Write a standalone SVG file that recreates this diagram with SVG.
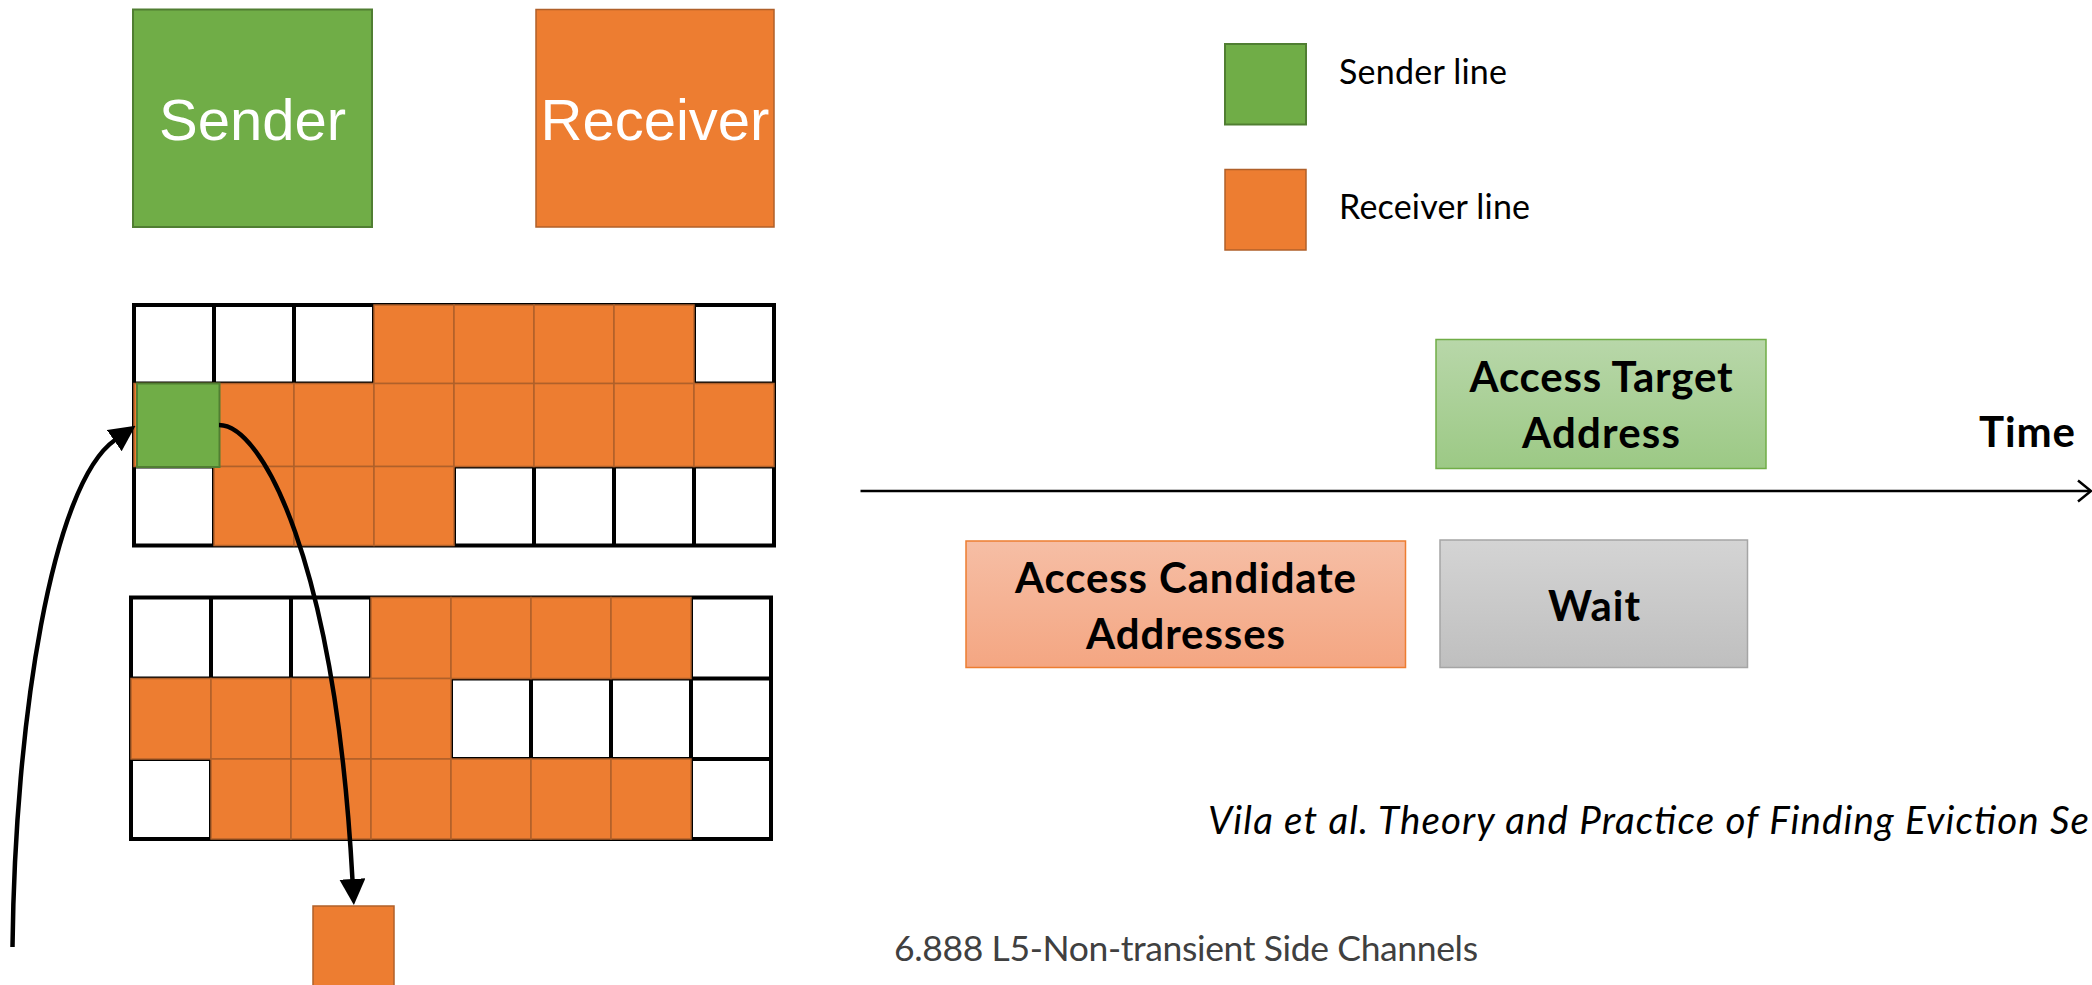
<svg xmlns="http://www.w3.org/2000/svg" width="2092" height="985" viewBox="0 0 2092 985">
  <style>
    .grid { fill: #ffffff; stroke: #000000; stroke-width: 4; }
    .gline { stroke: #000000; stroke-width: 4; fill: none; }
    .rcv { fill: #ED7D31; stroke: #B0602A; stroke-width: 1.5; }
    .snd { fill: #70AD47; stroke: #507E32; stroke-width: 2; }
    .big { font-family: "Liberation Sans", Arial, sans-serif; font-size: 58px; fill: #ffffff; text-anchor: middle; }
    .lbl { font-family: Lato, "Open Sans", sans-serif; font-weight: bold; font-size: 42px; fill: #000000; text-anchor: middle; }
    .leg { font-family: Lato, "Open Sans", sans-serif; font-size: 34px; fill: #000000; }
    .cite { font-family: Lato, "Open Sans", sans-serif; font-style: italic; font-size: 38.5px; fill: #000000; }
    .foot { font-family: Lato, "Open Sans", sans-serif; font-size: 35.5px; fill: #404040; }
    .conn { fill: none; stroke: #000000; stroke-width: 4.5; }
  </style>
  <defs>
    <linearGradient id="gGreen" x1="0" y1="0" x2="0" y2="1">
      <stop offset="0" stop-color="#B8D7A9"/>
      <stop offset="1" stop-color="#9CC985"/>
    </linearGradient>
    <linearGradient id="gOrange" x1="0" y1="0" x2="0" y2="1">
      <stop offset="0" stop-color="#F6BEA5"/>
      <stop offset="1" stop-color="#F4A682"/>
    </linearGradient>
    <linearGradient id="gGray" x1="0" y1="0" x2="0" y2="1">
      <stop offset="0" stop-color="#D4D4D4"/>
      <stop offset="1" stop-color="#BFBFBF"/>
    </linearGradient>
    <marker id="head" markerUnits="userSpaceOnUse" markerWidth="26" markerHeight="26" viewBox="0 0 26 26" refX="1" refY="13" orient="auto">
      <path d="M0,0 L26,13 L0,26 z" fill="#000000"/>
    </marker>
  </defs>

  <rect width="2092" height="985" fill="#ffffff"/>

  <!-- Sender / Receiver boxes -->
  <g id="sender">
    <rect class="snd" x="133" y="9.5" width="239" height="217.5" stroke-width="2.5"/>
    <text class="big" x="252.5" y="139.5">Sender</text>
  </g>
  <g id="receiver">
    <rect class="rcv" x="536" y="9.5" width="238" height="217.5" stroke-width="2.5"/>
    <text class="big" x="655" y="139.5">Receiver</text>
  </g>

  <!-- Cache set 1 (3 ways x 8 sets) -->
  <g id="cache-top">
    <rect class="grid" x="134" y="305" width="640" height="240.5"/>
    <path class="gline" d="M214,305V545.5 M294,305V545.5 M374,305V545.5 M454,305V545.5 M534,305V545.5 M614,305V545.5 M694,305V545.5 M134,383.5H774 M134,466.5H774"/>
    <!-- row 1 -->
    <rect class="rcv" x="374" y="305" width="80" height="78.5"/>
    <rect class="rcv" x="454" y="305" width="80" height="78.5"/>
    <rect class="rcv" x="534" y="305" width="80" height="78.5"/>
    <rect class="rcv" x="614" y="305" width="80" height="78.5"/>
    <!-- row 2 -->
    <rect class="rcv" x="134" y="383.5" width="80" height="83"/>
    <rect class="rcv" x="214" y="383.5" width="80" height="83"/>
    <rect class="rcv" x="294" y="383.5" width="80" height="83"/>
    <rect class="rcv" x="374" y="383.5" width="80" height="83"/>
    <rect class="rcv" x="454" y="383.5" width="80" height="83"/>
    <rect class="rcv" x="534" y="383.5" width="80" height="83"/>
    <rect class="rcv" x="614" y="383.5" width="80" height="83"/>
    <rect class="rcv" x="694" y="383.5" width="80" height="83"/>
    <!-- row 3 -->
    <rect class="rcv" x="214" y="466.5" width="80" height="79"/>
    <rect class="rcv" x="294" y="466.5" width="80" height="79"/>
    <rect class="rcv" x="374" y="466.5" width="80" height="79"/>
  </g>
  <g id="sender-line-cell">
    <rect class="snd" x="137" y="383.5" width="82.5" height="83.5"/>
  </g>

  <!-- Cache set 2 -->
  <g id="cache-bottom">
    <rect class="grid" x="131" y="597.5" width="640" height="241.5"/>
    <path class="gline" d="M211,597.5V839 M291,597.5V839 M371,597.5V839 M451,597.5V839 M531,597.5V839 M611,597.5V839 M691,597.5V839 M131,678.5H771 M131,759H771"/>
    <!-- row 1 -->
    <rect class="rcv" x="371" y="597.5" width="80" height="81"/>
    <rect class="rcv" x="451" y="597.5" width="80" height="81"/>
    <rect class="rcv" x="531" y="597.5" width="80" height="81"/>
    <rect class="rcv" x="611" y="597.5" width="80" height="81"/>
    <!-- row 2 -->
    <rect class="rcv" x="131" y="678.5" width="80" height="80.5"/>
    <rect class="rcv" x="211" y="678.5" width="80" height="80.5"/>
    <rect class="rcv" x="291" y="678.5" width="80" height="80.5"/>
    <rect class="rcv" x="371" y="678.5" width="80" height="80.5"/>
    <!-- row 3 -->
    <rect class="rcv" x="211" y="759" width="80" height="80"/>
    <rect class="rcv" x="291" y="759" width="80" height="80"/>
    <rect class="rcv" x="371" y="759" width="80" height="80"/>
    <rect class="rcv" x="451" y="759" width="80" height="80"/>
    <rect class="rcv" x="531" y="759" width="80" height="80"/>
    <rect class="rcv" x="611" y="759" width="80" height="80"/>
  </g>

  <!-- Evicted line -->
  <g id="evicted-line">
    <rect class="rcv" x="313" y="906" width="81" height="82"/>
  </g>

  <!-- Legend -->
  <g id="legend-sender">
    <rect class="snd" x="1225" y="44" width="81" height="80.5"/>
    <text class="leg" x="1339" y="83.5" textLength="168">Sender line</text>
  </g>
  <g id="legend-receiver">
    <rect class="rcv" x="1225" y="169.5" width="81" height="80.5" stroke-width="2"/>
    <text class="leg" x="1339" y="218.5" textLength="191">Receiver line</text>
  </g>

  <!-- Timeline phases -->
  <g id="phase-target">
    <rect x="1436" y="339.5" width="330" height="129" fill="url(#gGreen)" stroke="#70AD47" stroke-width="1.5"/>
    <text class="lbl" x="1601" y="392" textLength="263">Access Target</text>
    <text class="lbl" x="1601" y="448" textLength="158">Address</text>
  </g>
  <g id="phase-candidates">
    <rect x="966" y="541" width="439.5" height="126.5" fill="url(#gOrange)" stroke="#ED7D31" stroke-width="1.5"/>
    <text class="lbl" x="1185.5" y="593" textLength="341">Access Candidate</text>
    <text class="lbl" x="1185.5" y="649" textLength="199">Addresses</text>
  </g>
  <g id="phase-wait">
    <rect x="1440" y="540" width="307.5" height="127.5" fill="url(#gGray)" stroke="#A5A5A5" stroke-width="1.5"/>
    <text class="lbl" x="1594" y="620.5" textLength="92">Wait</text>
  </g>
  <g id="time-label">
    <text class="lbl" x="2027" y="446.5" textLength="96">Time</text>
  </g>

  <!-- Connectors -->
  <g id="connectors">
    <path class="conn" d="M12.5,947 C15,720 52,484 115,440" marker-end="url(#head)"/>
    <path class="conn" d="M219,425 C262,425 335,560 352.5,880" marker-end="url(#head)"/>
    <line x1="860.5" y1="491" x2="2090" y2="491" stroke="#000000" stroke-width="2.7"/>
    <polyline points="2078,480.5 2091,491 2078,501.5" fill="none" stroke="#000000" stroke-width="2.5"/>
  </g>

  <!-- Citation and footer -->
  <text class="cite" x="1208" y="833.5" textLength="881">Vila et al. Theory and Practice of Finding Eviction Se</text>
  <text class="foot" x="894" y="961" textLength="584">6.888 L5-Non-transient Side Channels</text>
</svg>
